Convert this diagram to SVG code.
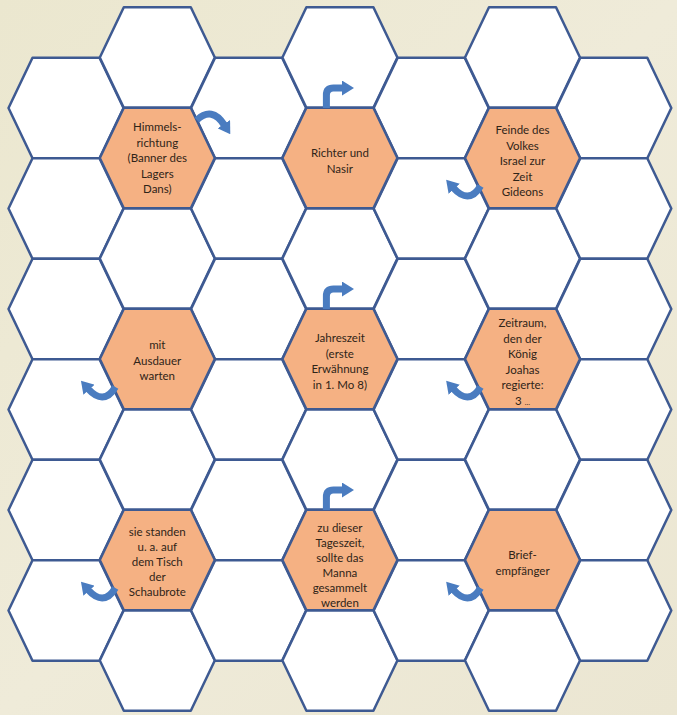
<svg xmlns="http://www.w3.org/2000/svg" width="677" height="715" viewBox="0 0 677 715">
<defs>
<style>
.hx{fill:#ffffff;stroke:#3e5a92;stroke-width:2.5;stroke-linejoin:round}
.or{fill:#f5b183}
.t{font-family:Lato,'Liberation Sans',sans-serif;font-size:11.5px;fill:#2f2418;text-anchor:middle}
.ar{fill:none;stroke:#4a7cc0;stroke-width:7;marker-end:url(#ah)}
</style>
<polygon id="hex" points="-57.5,0 -33.5,-50.25 33.5,-50.25 57.5,0 33.5,50.25 -33.5,50.25"/>
<marker id="ah" markerUnits="userSpaceOnUse" markerWidth="12" markerHeight="15" viewBox="0 0 12 15" refX="1" refY="7.5" orient="auto"><path d="M0,0 L12,7.5 L0,15 z" fill="#4a7cc0"/></marker>
<linearGradient id="bg" x1="0" y1="0" x2="1" y2="1">
<stop offset="0" stop-color="#ebe7cf"/>
<stop offset="0.5" stop-color="#efebd9"/>
<stop offset="1" stop-color="#ebe6d2"/>
</linearGradient>
</defs>
<rect width="677" height="715" fill="url(#bg)"/>
<g id="grid">
<use href="#hex" class="hx" x="66" y="108"/>
<use href="#hex" class="hx" x="66" y="208.5"/>
<use href="#hex" class="hx" x="66" y="309"/>
<use href="#hex" class="hx" x="66" y="409.5"/>
<use href="#hex" class="hx" x="66" y="510"/>
<use href="#hex" class="hx" x="66" y="610.5"/>
<use href="#hex" class="hx" x="157.3" y="57.5"/>
<use href="#hex" class="hx" x="157.3" y="258.5"/>
<use href="#hex" class="hx" x="157.3" y="459.5"/>
<use href="#hex" class="hx" x="157.3" y="660.5"/>
<use href="#hex" class="hx" x="248.6" y="108"/>
<use href="#hex" class="hx" x="248.6" y="208.5"/>
<use href="#hex" class="hx" x="248.6" y="309"/>
<use href="#hex" class="hx" x="248.6" y="409.5"/>
<use href="#hex" class="hx" x="248.6" y="510"/>
<use href="#hex" class="hx" x="248.6" y="610.5"/>
<use href="#hex" class="hx" x="339.9" y="57.5"/>
<use href="#hex" class="hx" x="339.9" y="258.5"/>
<use href="#hex" class="hx" x="339.9" y="459.5"/>
<use href="#hex" class="hx" x="339.9" y="660.5"/>
<use href="#hex" class="hx" x="431.2" y="108"/>
<use href="#hex" class="hx" x="431.2" y="208.5"/>
<use href="#hex" class="hx" x="431.2" y="309"/>
<use href="#hex" class="hx" x="431.2" y="409.5"/>
<use href="#hex" class="hx" x="431.2" y="510"/>
<use href="#hex" class="hx" x="431.2" y="610.5"/>
<use href="#hex" class="hx" x="522.5" y="57.5"/>
<use href="#hex" class="hx" x="522.5" y="258.5"/>
<use href="#hex" class="hx" x="522.5" y="459.5"/>
<use href="#hex" class="hx" x="522.5" y="660.5"/>
<use href="#hex" class="hx" x="613.8" y="108"/>
<use href="#hex" class="hx" x="613.8" y="208.5"/>
<use href="#hex" class="hx" x="613.8" y="309"/>
<use href="#hex" class="hx" x="613.8" y="409.5"/>
<use href="#hex" class="hx" x="613.8" y="510"/>
<use href="#hex" class="hx" x="613.8" y="610.5"/>
</g>
<g id="n-himmelsrichtung">
<use href="#hex" class="hx or" x="157.3" y="158"/>
<text class="t"><tspan x="157.3" y="131">Himmels-</tspan><tspan x="157.3" y="146.6">richtung</tspan><tspan x="157.3" y="162.2">(Banner des</tspan><tspan x="157.3" y="177.8">Lagers</tspan><tspan x="157.3" y="193.4">Dans)</tspan></text>
</g>
<g id="n-richter">
<use href="#hex" class="hx or" x="339.9" y="158"/>
<text class="t"><tspan x="339.9" y="157">Richter und</tspan><tspan x="339.9" y="172.5">Nasir</tspan></text>
</g>
<g id="n-feinde">
<use href="#hex" class="hx or" x="522.5" y="158"/>
<text class="t"><tspan x="522.5" y="134">Feinde des</tspan><tspan x="522.5" y="149.6">Volkes</tspan><tspan x="522.5" y="165.2">Israel zur</tspan><tspan x="522.5" y="180.8">Zeit</tspan><tspan x="522.5" y="196.4">Gideons</tspan></text>
</g>
<g id="n-ausdauer">
<use href="#hex" class="hx or" x="157.3" y="359"/>
<text class="t"><tspan x="157.3" y="349">mit</tspan><tspan x="157.3" y="364.6">Ausdauer</tspan><tspan x="157.3" y="380.2">warten</tspan></text>
</g>
<g id="n-jahreszeit">
<use href="#hex" class="hx or" x="339.9" y="359"/>
<text class="t"><tspan x="339.9" y="342">Jahreszeit</tspan><tspan x="339.9" y="357.6">(erste</tspan><tspan x="339.9" y="373.2">Erwähnung</tspan><tspan x="339.9" y="388.8">in 1. Mo 8)</tspan></text>
</g>
<g id="n-zeitraum">
<use href="#hex" class="hx or" x="522.5" y="359"/>
<text class="t"><tspan x="522.5" y="327">Zeitraum,</tspan><tspan x="522.5" y="342.6">den der</tspan><tspan x="522.5" y="358.2">König</tspan><tspan x="522.5" y="373.8">Joahas</tspan><tspan x="522.5" y="389.4">regierte:</tspan><tspan x="522.5" y="405">3 <tspan font-size="7">…</tspan></tspan></text>
</g>
<g id="n-schaubrote">
<use href="#hex" class="hx or" x="157.3" y="560"/>
<text class="t"><tspan x="157.3" y="535.5">sie standen</tspan><tspan x="157.3" y="550.5">u. a. auf</tspan><tspan x="157.3" y="565.5">dem Tisch</tspan><tspan x="157.3" y="580.5">der</tspan><tspan x="157.3" y="595.5">Schaubrote</tspan></text>
</g>
<g id="n-tageszeit">
<use href="#hex" class="hx or" x="339.9" y="560"/>
<text class="t"><tspan x="339.9" y="532">zu dieser</tspan><tspan x="339.9" y="547">Tageszeit,</tspan><tspan x="339.9" y="562">sollte das</tspan><tspan x="339.9" y="577">Manna</tspan><tspan x="339.9" y="592">gesammelt</tspan><tspan x="339.9" y="607">werden</tspan></text>
</g>
<g id="n-brief">
<use href="#hex" class="hx or" x="522.5" y="560"/>
<text class="t"><tspan x="522.5" y="559">Brief-</tspan><tspan x="522.5" y="574.5">empfänger</tspan></text>
</g>
<g id="connectors">
<path class="ar" d="M196.8,120 Q212,106 224.3,125"/>
<path class="ar" d="M326.4,108 V95 Q326.4,88 333.4,88 H343"/>
<path class="ar" d="M326.4,309 V296 Q326.4,289 333.4,289 H343"/>
<path class="ar" d="M326.4,510 V497 Q326.4,490 333.4,490 H343"/>
<path class="ar" d="M115.3,387 C107.3,401 97.3,399 88.3,389"/>
<path class="ar" d="M115.3,588 C107.3,602 97.3,600 88.3,590"/>
<path class="ar" d="M480.5,186 C472.5,200 462.5,198 453.5,188"/>
<path class="ar" d="M480.5,387 C472.5,401 462.5,399 453.5,389"/>
<path class="ar" d="M480.5,588 C472.5,602 462.5,600 453.5,590"/>
</g>
</svg>
